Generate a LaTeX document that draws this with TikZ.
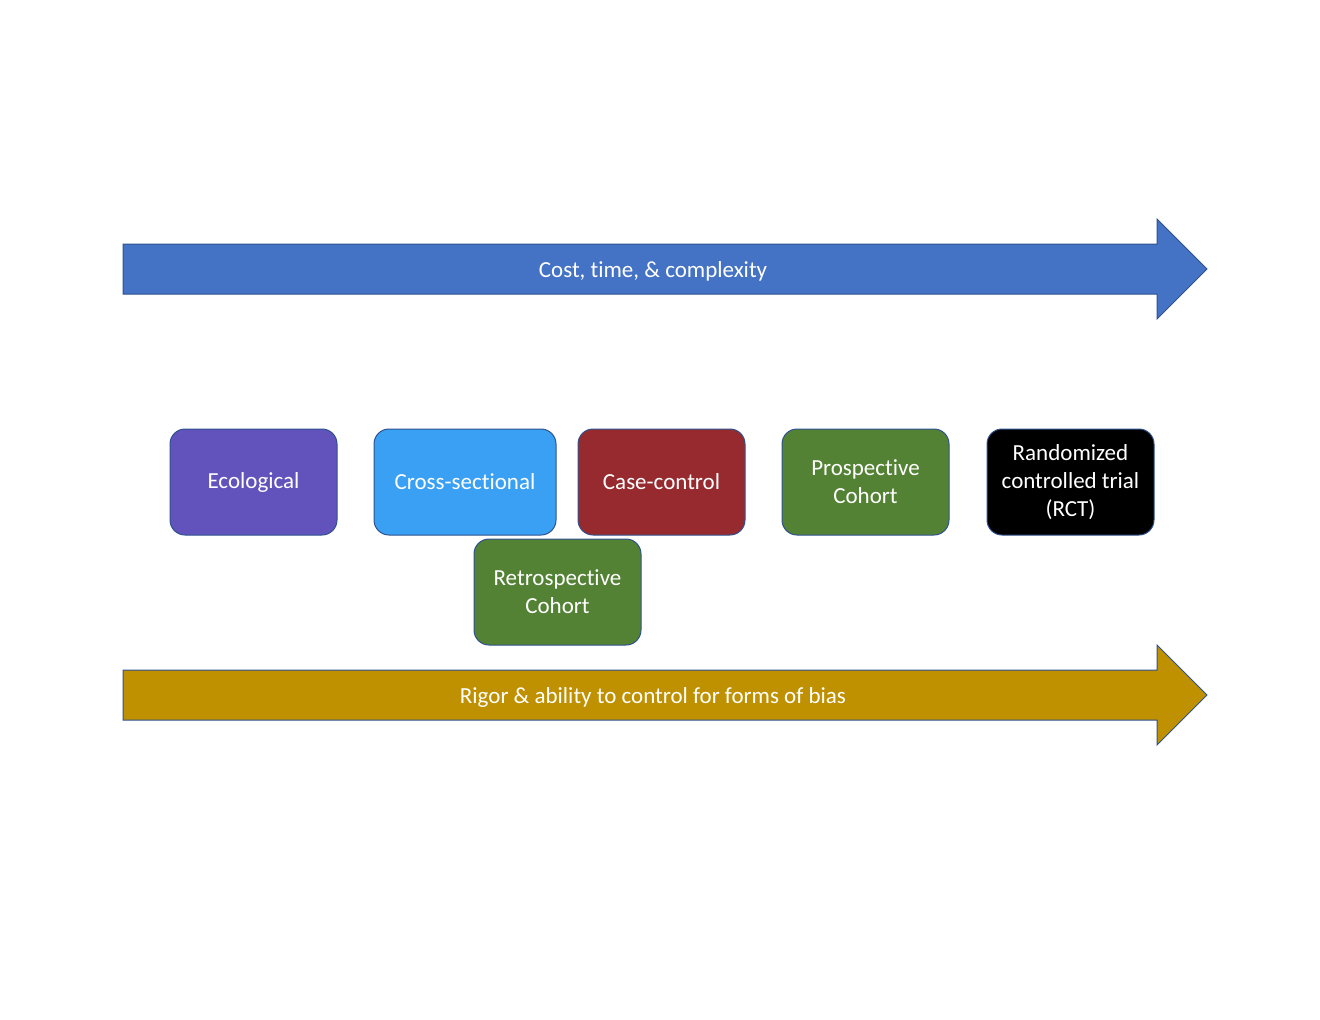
\documentclass[tikz,border=0pt]{standalone}
\usepackage{fontspec}
\setmainfont{Carlito}[RawFeature={-liga;-dlig;-clig}]
\definecolor{arrowblue}{HTML}{4472C4}
\definecolor{arrowgold}{HTML}{BF9000}
\definecolor{edgeblue}{HTML}{2F528F}
\definecolor{ecopurple}{HTML}{6252BC}
\definecolor{crossblue}{HTML}{3AA0F3}
\definecolor{casered}{HTML}{962A2F}
\definecolor{cohortgreen}{HTML}{548235}
\tikzset{
  studybox/.style={draw=edgeblue, line width=1pt, rounded corners=15pt, minimum height=106pt,
    text=white, align=center, font=\fontsize{23}{28}\selectfont, inner sep=0pt},
  bigarrow/.style={draw=edgeblue, line width=1pt},
  arrowlabel/.style={text=white, font=\fontsize{23}{28}\selectfont}
}
\begin{document}
\begin{tikzpicture}[x=1pt,y=-1pt]
\useasboundingbox (0,0) rectangle (1320,1020);
% top arrow
\draw[bigarrow, fill=arrowblue] (123,244) -- (1157,244) -- (1157,219) -- (1207,269) -- (1157,319) -- (1157,294) -- (123,294) -- cycle;
\node[arrowlabel] (costlabel) at (653,271) {Cost, time, \& complexity};
% bottom arrow
\draw[bigarrow, fill=arrowgold] (123,670) -- (1157,670) -- (1157,645) -- (1207,695) -- (1157,745) -- (1157,720) -- (123,720) -- cycle;
\node[arrowlabel] (rigorlabel) at (653,697) {Rigor \& ability to control for forms of bias};
% boxes
\node[studybox, fill=ecopurple, minimum width=167pt] (eco) at (253.5,482) {Ecological};
\node[studybox, fill=crossblue, minimum width=182pt] (cross) at (465,482) {Cross-sectional};
\node[studybox, fill=casered, minimum width=167pt] (case) at (661.5,482) {Case-control};
\node[studybox, fill=cohortgreen, minimum width=167pt] (pros) at (865.5,482) {Prospective\\Cohort};
\node[studybox, fill=black, minimum width=167pt] (rct) at (1070.5,482) {Randomized\\controlled trial\\(RCT)};
\node[studybox, fill=cohortgreen, minimum width=167pt] (retro) at (557.5,592) {Retrospective\\Cohort};
\end{tikzpicture}
\end{document}
